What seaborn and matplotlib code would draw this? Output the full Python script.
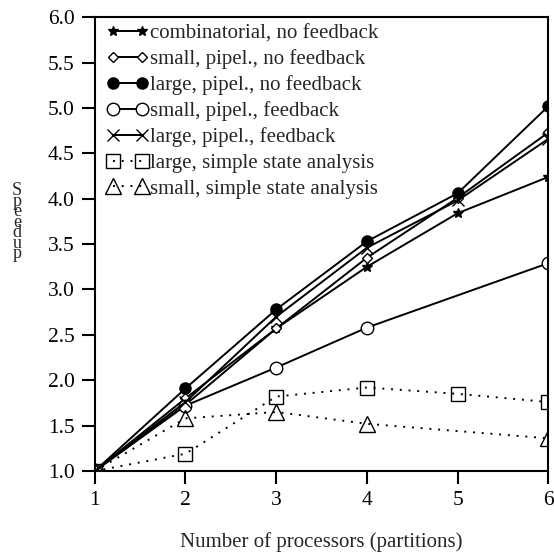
import matplotlib
matplotlib.use('Agg')
import matplotlib.pyplot as plt
import seaborn as sns

# speedup vs. number of processors
procs = [1, 2, 3, 4, 5, 6]
procs_short = [1, 2, 3, 4, 6]
comb_nofb = [1.0, 1.73, 2.57, 3.25, 3.84, 4.24]
small_pipe_nofb = [1.0, 1.80, 2.57, 3.35, 4.01, 4.73]
large_pipe_nofb = [1.0, 1.91, 2.78, 3.53, 4.06, 5.02]
small_pipe_fb = [1.0, 1.72, 2.14, 2.58, 3.29]
large_pipe_fb = [1.0, 1.76, 2.70, 3.46, 3.98, 4.66]
large_simple = [1.0, 1.19, 1.82, 1.92, 1.85, 1.76]
small_simple = [1.0, 1.58, 1.65, 1.52, 1.36]

labels = ["combinatorial, no feedback", "small, pipel., no feedback",
          "large, pipel., no feedback", "small, pipel., feedback",
          "large, pipel., feedback", "large, simple state analysis",
          "small, simple state analysis"]

sns.set_theme(style="ticks")
plt.rcParams['font.family'] = ['Liberation Serif', 'DejaVu Serif']

fig = plt.figure(figsize=(5.54, 5.52), dpi=100)
ax = fig.add_axes([0.171, 0.1467, 0.819, 0.8223])

dotted = (0, (1, 3.5))
series = [
    (procs, comb_nofb, dict(marker='*', ms=7, mfc='black', ls='-')),
    (procs, small_pipe_nofb, dict(marker='D', ms=5, mfc='white', ls='-')),
    (procs, large_pipe_nofb, dict(marker='o', ms=8, mfc='black', ls='-')),
    (procs_short, small_pipe_fb, dict(marker='o', ms=9, mfc='white', ls='-')),
    (procs, large_pipe_fb, dict(marker='x', ms=8, mfc='black', ls='-')),
    (procs, large_simple, dict(marker='s', ms=10, mfc='none', ls=dotted)),
    (procs_short, small_simple, dict(marker='^', ms=11, mfc='none', ls=dotted)),
]
for (xs, ys, kw), lab in zip(series, labels):
    sns.lineplot(x=xs, y=ys, ax=ax, color='black', lw=1.4, mec='black',
                 mew=1.0, label=lab, **kw)

ax.set_xlim(1, 6)
ax.set_ylim(1.0, 6.0)
ax.set_xticks(procs)
ax.set_yticks([1.0, 1.5, 2.0, 2.5, 3.0, 3.5, 4.0, 4.5, 5.0, 5.5, 6.0])
ax.set_yticklabels([f"{v:.1f}" for v in ax.get_yticks()])
ax.tick_params(direction='out', length=9.5, width=1.5, labelsize=15.5, pad=5,
               colors='black')
for s in ax.spines.values():
    s.set_linewidth(1.5)
    s.set_color('black')

ax.set_xlabel("Number of processors (partitions)", fontsize=15, labelpad=16)
ax.set_ylabel("S\np\ne\ne\nd\nu\np", rotation=0, fontsize=13, ha='center',
              va='center', linespacing=0.5)
ax.yaxis.set_label_coords(-0.171, 0.548)

h, l = ax.get_legend_handles_labels()
ax.legend(h, l, loc='upper left', bbox_to_anchor=(0.026, 0.985), frameon=False,
          numpoints=2, fontsize=15, borderaxespad=0, borderpad=0,
          handlelength=2.0, handletextpad=0.1, labelspacing=0.29)

fig.savefig("out.png", dpi=100)
